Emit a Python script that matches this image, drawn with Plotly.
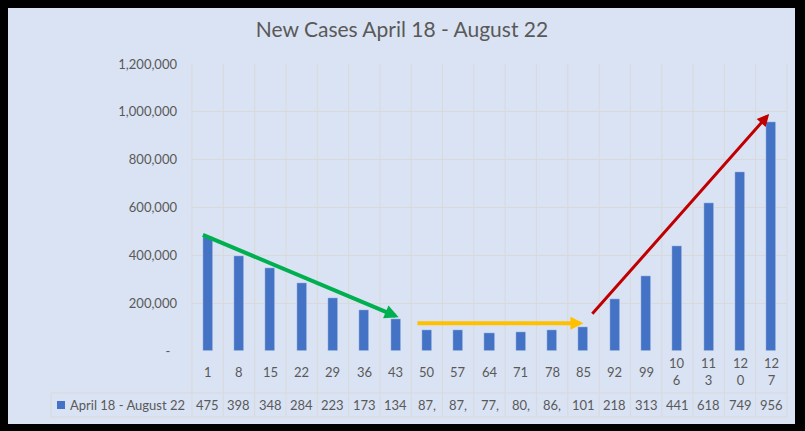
import plotly.graph_objects as go

# ---- data ----
days = [1, 8, 15, 22, 29, 36, 43, 50, 57, 64, 71, 78, 85, 92, 99, 106, 113, 120, 127]
new_cases = [475000, 398000, 348000, 284000, 223000, 173000, 134000, 87000, 87000,
             77000, 80000, 86000, 101000, 218000, 313000, 441000, 618000, 749000, 956000]
series_name = "April 18 - August 22"
title_text = "New Cases April 18 - August 22"
y_tickvals = [0, 200000, 400000, 600000, 800000, 1000000, 1200000]
y_ticktext = ["-\u00a0\u00a0", "200,000", "400,000", "600,000", "800,000", "1,000,000", "1,200,000"]

# trend arrows: (tail_x_index, tail_value, head_x_index, head_value, colour, width, headsize)
trend_arrows = [
    (-0.2, 488000, 6.1, 141000, "#00B050", 4, 0.7),
    (6.65, 116000, 12.0, 116000, "#FFC000", 4, 0.65),
    (12.24, 149000, 17.93, 991000, "#C00000", 3, 0.8),
]

# ---- layout constants ----
W, H = 805, 431
L, R, T, B = 192, 18, 64, 80
PW, PH = W - L - R, H - T - B
BG = "#DAE3F3"
GRID = "#D9D9D9"
TXT = "#595959"
BAR = "#4472C4"
FONT = "Lato"


def px_x(px):
    return (px - L) / PW


def px_y(py):
    return (H - B - py) / PH


n = len(days)
idx = list(range(n))

fig = go.Figure()
fig.add_trace(go.Bar(x=idx, y=new_cases, width=0.32, marker_color=BAR,
                     name=series_name, showlegend=False, hoverinfo="y"))

shapes = []
# background panel inside black frame
shapes.append(dict(type="rect", xref="paper", yref="paper",
                   x0=px_x(8), x1=px_x(795), y0=px_y(424), y1=px_y(8),
                   fillcolor=BG, line_width=0, layer="below"))
# vertical category boundaries through plot and table
for k in range(n + 1):
    shapes.append(dict(type="line", xref="paper", yref="paper",
                       x0=k / n, x1=k / n, y0=px_y(417), y1=1,
                       line=dict(color=GRID, width=1), layer="below"))
# table horizontal lines
for py in (393, 417):
    shapes.append(dict(type="line", xref="paper", yref="paper",
                       x0=px_x(51), x1=1, y0=px_y(py), y1=px_y(py),
                       line=dict(color=GRID, width=1), layer="below"))
shapes.append(dict(type="line", xref="paper", yref="paper",
                   x0=px_x(51), x1=px_x(51), y0=px_y(393), y1=px_y(417),
                   line=dict(color=GRID, width=1), layer="below"))
# legend key
shapes.append(dict(type="rect", xref="paper", yref="paper",
                   x0=px_x(57), x1=px_x(65), y0=px_y(409), y1=px_y(401),
                   fillcolor=BAR, line_width=0))

annotations = []
# category labels row
for i, d in enumerate(days):
    s = str(d)
    if len(s) > 2:
        s = s[:2] + "<br>" + s[2:]
    annotations.append(dict(x=i, y=px_y(371.5), xref="x", yref="paper", text=s,
                            showarrow=False, xanchor="center", yanchor="middle",
                            font=dict(family=FONT, size=13, color=TXT)))
# values row (truncated as in the data table)
for i, v in enumerate(new_cases):
    annotations.append(dict(x=i, y=px_y(405), xref="x", yref="paper",
                            text=f"{v:,}"[:3], showarrow=False,
                            xanchor="center", yanchor="middle",
                            font=dict(family=FONT, size=13, color=TXT)))
annotations.append(dict(x=px_x(68), y=px_y(405), xref="paper", yref="paper",
                        text=series_name, showarrow=False, xanchor="left",
                        yanchor="middle", font=dict(family=FONT, size=13, color=TXT)))
# trend arrows
for tx, tv, hx, hv, col, w, hs in trend_arrows:
    annotations.append(dict(x=hx, y=hv, ax=tx, ay=tv, xref="x", yref="y",
                            axref="x", ayref="y", text="", showarrow=True,
                            arrowhead=2, arrowsize=hs, arrowwidth=w, arrowcolor=col))

fig.update_layout(
    width=W, height=H,
    margin=dict(l=L, r=R, t=T, b=B),
    paper_bgcolor="black", plot_bgcolor=BG,
    title=dict(text=title_text, x=402 / W, xref="container", xanchor="center",
               y=1 - 30 / H, yref="container", yanchor="middle",
               font=dict(family=FONT, size=21, color=TXT)),
    xaxis=dict(range=[-0.5, n - 0.5], showticklabels=False, showgrid=False,
               zeroline=False, ticks="", fixedrange=True),
    yaxis=dict(range=[0, 1200000], tickvals=y_tickvals, ticktext=y_ticktext,
               showgrid=True, gridcolor=GRID, gridwidth=1, zeroline=False,
               ticks="", ticklabelstandoff=14,
               tickfont=dict(family=FONT, size=13, color=TXT)),
    shapes=shapes, annotations=annotations, bargap=0,
)

fig.write_html("out.html")
